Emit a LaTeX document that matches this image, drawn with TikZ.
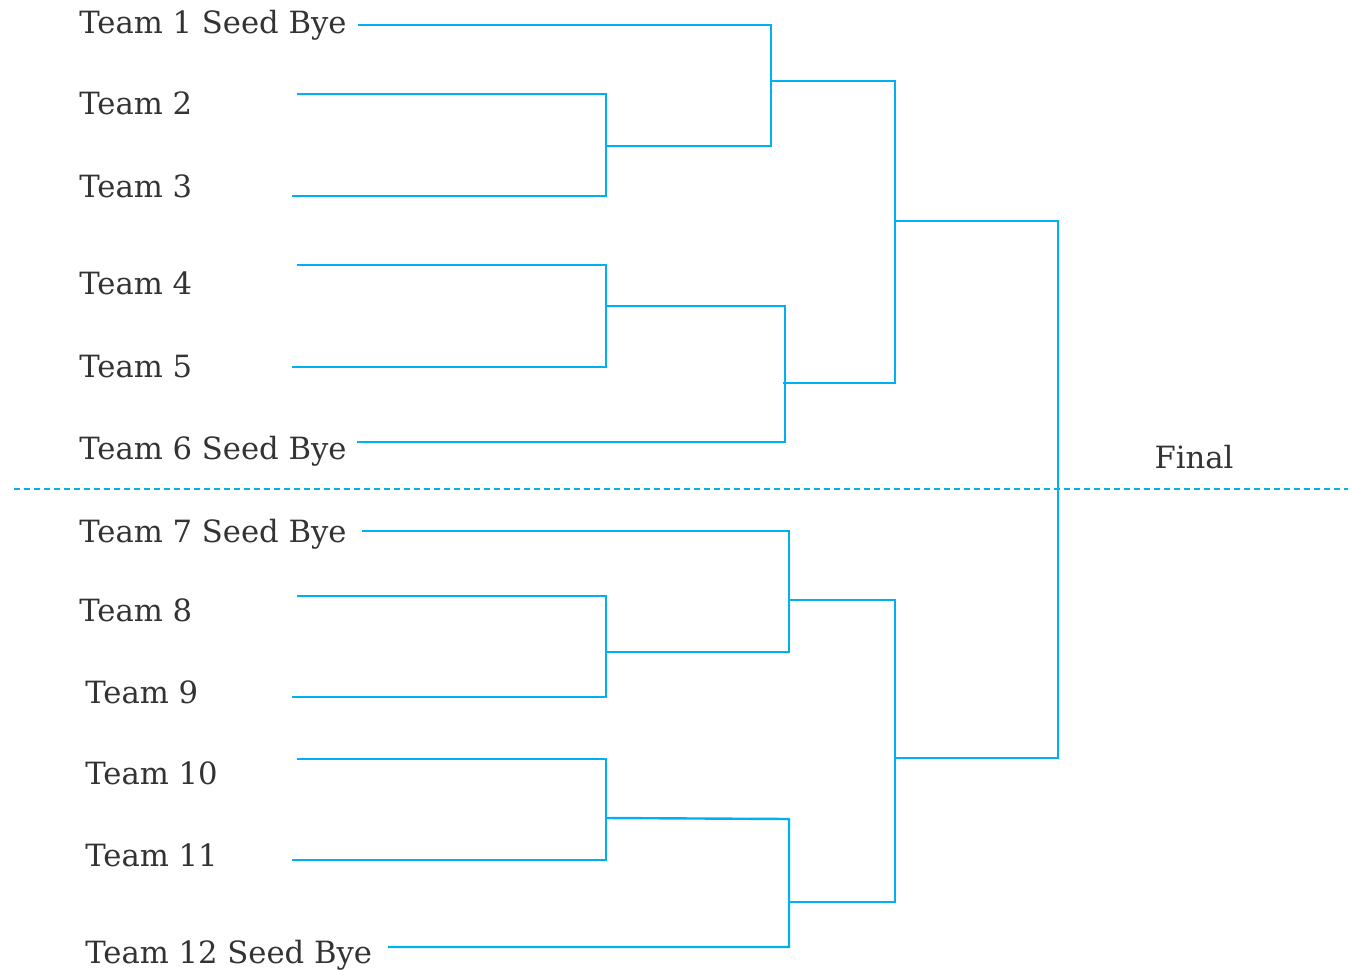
\documentclass[tikz,border=0pt]{standalone}
\usepackage{fontspec}
\setmainfont{DejaVu Serif}
\definecolor{brk}{HTML}{00B0F0}
\definecolor{txt}{HTML}{333333}
\begin{document}
\begin{tikzpicture}[x=0.75pt,y=-0.75pt,
  team/.style={anchor=base west,inner sep=0pt,text=txt,font=\fontsize{23}{27}\selectfont},
  wire/.style={draw=brk,line width=1.8pt,line join=miter}]
\useasboundingbox (0,0) rectangle (1352,970);
% labels
\node[team] (t1) at (79,34) {Team 1 Seed Bye};
\node[team] (t2) at (79,115) {Team 2};
\node[team] (t3) at (79,197) {Team 3};
\node[team] (t4) at (79,294) {Team 4};
\node[team] (t5) at (79,377) {Team 5};
\node[team] (t6) at (79,459) {Team 6 Seed Bye};
\node[team] (t7) at (79,542) {Team 7 Seed Bye};
\node[team] (t8) at (79,621) {Team 8};
\node[team] (t9) at (85,703) {Team 9};
\node[team] (t10) at (85,784) {Team 10};
\node[team] (t11) at (85,866) {Team 11};
\node[team] (t12) at (85,963) {Team 12 Seed Bye};
\node[team,anchor=base] (fin) at (1194,468) {Final};
% line starts
\coordinate (s1) at (358,25);
\coordinate (s2) at (297,94);
\coordinate (s3) at (292,196);
\coordinate (s4) at (297,265);
\coordinate (s5) at (292,367);
\coordinate (s6) at (357,442);
\coordinate (s7) at (362,531);
\coordinate (s8) at (297,596);
\coordinate (s9) at (292,697);
\coordinate (s10) at (297,759);
\coordinate (s11) at (292,860);
\coordinate (s12) at (388,947);
% junctions
\coordinate (m23) at (606,146);
\coordinate (m45) at (606,306);
\coordinate (m89) at (606,652);
\coordinate (m1011) at (606,818);
\coordinate (q1) at (771,81);
\coordinate (q2) at (785,383);
\coordinate (q3) at (789,600);
\coordinate (q4) at (789,902);
\coordinate (h1) at (895,221);
\coordinate (h2) at (895,758);
\coordinate (fl) at (14,489);
\coordinate (fr) at (1348,489);
% first round
\draw[wire] (s2) -| (m23) |- (s3);
\draw[wire] (s4) -| (m45) |- (s5);
\draw[wire] (s8) -| (m89) |- (s9);
\draw[wire] (s10) -| (m1011) |- (s11);
% second round
\draw[wire] (s1) -| (q1) |- (m23);
\draw[wire] (m45) -| (q2) |- (s6);
\draw[wire] (783,383) -- (q2);
\draw[wire] (s7) -| (q3) |- (m89);
\draw[wire] (m1011) -- (789,819) -- (q4) |- (s12);
% semis
\draw[wire] (q1) -| (h1) |- (q2);
\draw[wire] (q3) -| (h2) |- (q4);
% final
\draw[wire] (h1) -| (1058,489) |- (h2);
% divider
\draw[brk,line width=1.8pt,dash pattern=on 4.5pt off 3pt] (fl) -- (fr);
\end{tikzpicture}
\end{document}
